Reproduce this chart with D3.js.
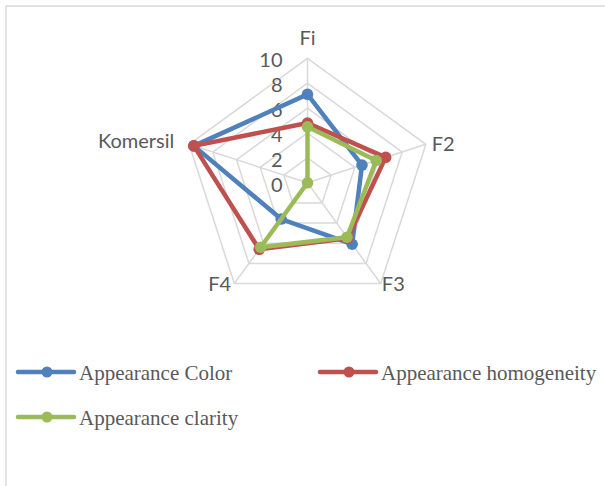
<!DOCTYPE html>
<html>
<head>
<meta charset="utf-8">
<script src="https://cdn.jsdelivr.net/npm/d3@7"></script>
<style>
  html, body { margin: 0; padding: 0; background: #fff; }
  svg { display: block; }
</style>
</head>
<body>
<svg id="chart" width="605" height="486"></svg>
<script>
// ---- data ----
const categories = ["Fi", "F2", "F3", "F4", "Komersil"];
const seriesNames = ["Appearance Color", "Appearance homogeneity", "Appearance clarity"];
const colorValues = [7.1, 4.6, 6.1, 3.6, 9.6];
const homogeneityValues = [4.8, 6.6, 5.5, 6.6, 9.6];
const clarityValues = [4.5, 5.8, 5.4, 6.4, 0];
const tickValues = [0, 2, 4, 6, 8, 10];
const seriesColors = ["#4f81bd", "#c0504d", "#9bbb59"];

const series = [
  { name: seriesNames[0], values: colorValues, color: seriesColors[0] },
  { name: seriesNames[1], values: homogeneityValues, color: seriesColors[1] },
  { name: seriesNames[2], values: clarityValues, color: seriesColors[2] }
];

// ---- layout ----
const svg = d3.select("#chart");
const cx = 307.5, cy = 182.8, R = 124.5;
const r = d3.scaleLinear().domain([0, 10]).range([0, R]);
const angle = d3.scaleLinear().domain([0, categories.length]).range([0, 2 * Math.PI]);
const textColor = "#595959";
const gridColor = "#d9d9d9";
const labelFont = "Lato, 'Open Sans', sans-serif";

// border
svg.append("path")
  .attr("d", "M6,490 L6,6 L610,6")
  .attr("fill", "none")
  .attr("stroke", gridColor)
  .attr("stroke-width", 1.5);

const g = svg.append("g").attr("transform", `translate(${cx},${cy})`);

// grid polygons
const gridLine = d3.lineRadial()
  .angle((d, i) => angle(i))
  .radius(d => r(d))
  .curve(d3.curveLinearClosed);

tickValues.filter(t => t > 0).forEach(t => {
  g.append("path")
    .attr("d", gridLine(categories.map(() => t)))
    .attr("fill", "none")
    .attr("stroke", gridColor)
    .attr("stroke-width", 1.5);
});

// spokes
categories.forEach((c, i) => {
  const a = angle(i);
  g.append("line")
    .attr("x1", 0).attr("y1", 0)
    .attr("x2", r(10) * Math.sin(a))
    .attr("y2", -r(10) * Math.cos(a))
    .attr("stroke", gridColor)
    .attr("stroke-width", 1.5);
});

// tick labels
g.selectAll(".tick")
  .data(tickValues)
  .enter().append("text")
  .attr("x", -25)
  .attr("y", d => -r(d) + 1)
  .attr("text-anchor", "end")
  .attr("dominant-baseline", "central")
  .attr("font-family", labelFont)
  .attr("font-size", 20)
  .attr("fill", textColor)
  .text(d => d);

// category labels
const labelNudge = [[0, -19], [4, -1], [0, -2], [-2, -2], [-13, -4]];
categories.forEach((c, i) => {
  const a = angle(i);
  const s = Math.sin(a), co = Math.cos(a);
  const x = (R + 2) * s + labelNudge[i][0];
  const y = -(R + 2) * co + labelNudge[i][1];
  g.append("text")
    .attr("x", x)
    .attr("y", y)
    .attr("text-anchor", s > 0.1 ? "start" : (s < -0.1 ? "end" : "middle"))
    .attr("dominant-baseline", "central")
    .attr("font-family", labelFont)
    .attr("font-size", 20)
    .attr("fill", textColor)
    .text(c);
});

// series
const seriesLine = d3.lineRadial()
  .angle((d, i) => angle(i))
  .radius(d => r(d))
  .curve(d3.curveLinearClosed);

series.forEach(s => {
  const sg = g.append("g");
  sg.append("path")
    .attr("d", seriesLine(s.values))
    .attr("fill", "none")
    .attr("stroke", s.color)
    .attr("stroke-width", 4.5)
    .attr("stroke-linejoin", "round");
  sg.selectAll("circle")
    .data(s.values)
    .enter().append("circle")
    .attr("cx", (d, i) => r(d) * Math.sin(angle(i)))
    .attr("cy", (d, i) => -r(d) * Math.cos(angle(i)))
    .attr("r", 5.8)
    .attr("fill", s.color);
});

// legend
const legendPos = [[18, 372], [320, 372], [18, 417]];
series.forEach((s, i) => {
  const [lx, ly] = legendPos[i];
  const lg = svg.append("g").attr("transform", `translate(${lx},${ly})`);
  lg.append("line")
    .attr("x1", 0).attr("x2", 56)
    .attr("y1", 0).attr("y2", 0)
    .attr("stroke", s.color)
    .attr("stroke-width", 4.5)
    .attr("stroke-linecap", "round");
  lg.append("circle")
    .attr("cx", 29).attr("cy", 0).attr("r", 5.5)
    .attr("fill", s.color);
  lg.append("text")
    .attr("x", 61)
    .attr("y", 1)
    .attr("dominant-baseline", "central")
    .attr("font-family", "'Liberation Serif', 'Times New Roman', serif")
    .attr("font-size", 21)
    .attr("fill", textColor)
    .text(s.name);
});
</script>
</body>
</html>
